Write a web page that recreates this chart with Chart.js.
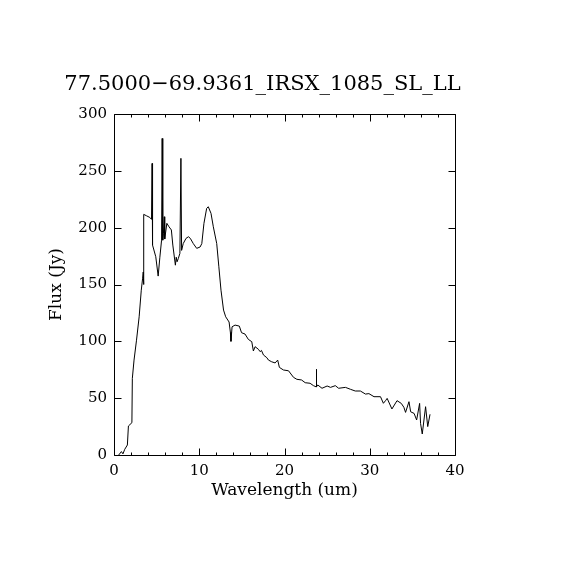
<!DOCTYPE html>
<html>
<head>
<meta charset="utf-8">
<title>77.5000-69.9361_IRSX_1085_SL_LL</title>
<script src="https://cdn.jsdelivr.net/npm/chart.js@4.4.1/dist/chart.umd.min.js"></script>
<style>
  html, body { margin: 0; padding: 0; background: #fff; }
  #wrap { width: 570px; height: 570px; }
</style>
</head>
<body>
<div id="wrap"><canvas id="spectrum-chart"></canvas></div>
<script>
/*
  Spectrum 77.5000-69.9361 (IRSX 1085, SL + LL modules)
  Flux in Jy against wavelength in microns
*/

const wavelength = [
  0.55, 0.87, 1.05, 1.26, 1.57, 1.69, 2.1, 2.15, 2.35, 2.64,
  2.95, 3.2, 3.35, 3.43, 3.47, 3.5, 3.8, 4.2, 4.4, 4.47,
  4.52, 4.9, 5.18, 5.38, 5.58, 5.65, 5.72, 5.8, 5.9, 5.95,
  6.2, 6.45, 6.73, 6.9, 7.2, 7.3, 7.4, 7.55, 7.73, 7.85,
  7.93, 8.12, 8.45, 8.73, 8.95, 9.3, 9.7, 10.1, 10.3, 10.55,
  10.87, 11.06, 11.38, 11.65, 12.05, 12.3, 12.55, 12.85, 13.1, 13.5,
  13.65, 13.72, 13.85, 14.2, 14.7, 14.96, 15.37, 15.76, 16.16, 16.35,
  16.55, 16.94, 17.14, 17.3, 17.53, 17.93, 18.12, 18.5, 18.9, 19.2,
  19.4, 19.87, 20.47, 21.06, 21.45, 22.0, 22.43, 23.0, 23.4, 23.7,
  23.73, 23.78, 23.9, 24.4, 25.0, 25.4, 25.96, 26.35, 27.15, 27.74,
  28.3, 28.9, 29.5, 29.9, 30.5, 31.26, 31.6, 31.85, 32.04, 32.6,
  33.2, 33.7, 34.0, 34.2, 34.6, 34.8, 35.2, 35.5, 35.85, 35.96,
  36.16, 36.55, 36.8, 37.07
];

const flux = [
  0, 3, 1, 5, 8.8, 25.5, 28.4, 67.4, 83.5, 101,
  121.6, 145, 155, 161, 150, 211.7, 210.5, 209, 207.3, 256.5,
  184.7, 174.4, 157.4, 174, 189, 278.5, 189, 195, 209.6, 190,
  203.8, 200.8, 198, 184.7, 167, 174, 170, 173, 177.4, 261,
  180, 186, 190.6, 192, 190.6, 186, 181.8, 183, 186, 203.8,
  217, 218.4, 212.6, 200.8, 186, 165.6, 145, 127.5, 121.6, 117,
  108, 100, 112.8, 114.3, 113.4, 107.6, 106.4, 101.7, 99.7, 91.5,
  95.3, 93, 90.9, 92, 88, 85.6, 83.5, 82, 81, 83.5,
  77.1, 74.8, 74.1, 68.3, 66.6, 66, 63.6, 63.1, 61, 60,
  75.4, 60, 61.6, 58.7, 60.7, 59.5, 61, 58.7, 59.5, 57.8,
  56.3, 56.3, 53.6, 54, 51.3, 51.3, 45.5, 47.8, 49.8, 40.5,
  47.8, 45.4, 42, 37.5, 46.9, 38, 36.6, 30.8, 45.4, 27.8,
  18.5, 42.5, 25, 35.8
];

const xTicks = [0, 10, 20, 30, 40];
const xMinorTicks = [2, 4, 6, 8, 12, 14, 16, 18, 22, 24, 26, 28, 32, 34, 36, 38];
const yTicks = [0, 50, 100, 150, 200, 250, 300];

const titleText = '77.5000\u221269.9361_IRSX_1085_SL_LL';
const serif = "'DejaVu Serif', 'Liberation Serif', serif";

const spectrumCanvas = document.getElementById('spectrum-chart').getContext('2d');

// frame around the plot with inward ticks on all four sides (IDL style)
const frameTicks = {
  id: 'frameTicks',
  beforeDraw(chart) {
    const { ctx } = chart;
    ctx.save();
    ctx.fillStyle = '#fff';
    ctx.fillRect(0, 0, chart.width, chart.height);
    ctx.restore();
  },
  afterDraw(chart) {
    const { ctx, chartArea: a, scales } = chart;
    const L = Math.round(a.left) + 0.5;
    const R = Math.round(a.right) + 0.5;
    const T = Math.round(a.top) + 0.5;
    const B = Math.round(a.bottom) + 0.5;
    ctx.save();
    ctx.strokeStyle = '#000';
    ctx.lineWidth = 1;
    ctx.beginPath();
    ctx.rect(L, T, R - L, B - T);

    const xTick = (v, len) => {
      const px = Math.round(scales.x.getPixelForValue(v)) + 0.5;
      ctx.moveTo(px, B);
      ctx.lineTo(px, B - len);
      ctx.moveTo(px, T);
      ctx.lineTo(px, T + len);
    };
    xTicks.forEach((v) => xTick(v, 7));
    xMinorTicks.forEach((v) => xTick(v, 3));

    yTicks.forEach((v) => {
      const py = Math.round(scales.y.getPixelForValue(v)) + 0.5;
      ctx.moveTo(L, py);
      ctx.lineTo(L + 7, py);
      ctx.moveTo(R, py);
      ctx.lineTo(R - 7, py);
    });
    ctx.stroke();
    ctx.restore();
  },
};

const configSpectrum = {
  type: 'line',
  data: {
    datasets: [
      {
        label: 'Flux',
        data: wavelength.map((w, i) => ({ x: w, y: flux[i] })),
        borderColor: '#000',
        borderWidth: 1,
        pointRadius: 0,
        tension: 0,
        fill: false,
      },
    ],
  },
  options: {
    responsive: false,
    animation: false,
    devicePixelRatio: 1,
    layout: {
      // right padding is split with an empty right axis so the title
      // sits where it does in the original plot
      padding: { top: 60, right: 45, bottom: 55, left: 0 },
    },
    plugins: {
      legend: { display: false },
      tooltip: { enabled: false },
      title: {
        display: true,
        text: titleText,
        color: '#000',
        font: { family: serif, size: 21, weight: 'normal', lineHeight: 1.2 },
        padding: { top: 12, bottom: 16.8 },
      },
    },
    scales: {
      x: {
        type: 'linear',
        min: 0,
        max: 40,
        afterFit: (s) => { s.height = 60; },
        afterBuildTicks: (s) => { s.ticks = xTicks.map((v) => ({ value: v })); },
        grid: { display: false, drawTicks: false },
        border: { display: false },
        ticks: {
          color: '#000',
          padding: 7,
          maxRotation: 0,
          font: { family: serif, size: 15 },
        },
        title: {
          display: true,
          text: 'Wavelength (um)',
          color: '#000',
          font: { family: serif, size: 17, lineHeight: 1.2 },
          padding: { top: 0, bottom: 14 },
        },
      },
      y: {
        type: 'linear',
        min: 0,
        max: 300,
        afterFit: (s) => { s.width = 114; },
        afterBuildTicks: (s) => { s.ticks = yTicks.map((v) => ({ value: v })); },
        grid: { display: false, drawTicks: false },
        border: { display: false },
        ticks: {
          color: '#000',
          padding: 7,
          font: { family: serif, size: 15 },
        },
        title: {
          display: true,
          text: 'Flux (Jy)',
          color: '#000',
          font: { family: serif, size: 17, lineHeight: 1.2 },
          padding: { top: 46, bottom: 0 },
        },
      },
      yRight: {
        type: 'linear',
        position: 'right',
        min: 0,
        max: 300,
        afterFit: (s) => { s.width = 70; },
        grid: { display: false, drawTicks: false },
        border: { display: false },
        ticks: { display: false },
      },
    },
  },
  plugins: [frameTicks],
};

const cv = document.getElementById('spectrum-chart');
cv.width = 570;
cv.height = 570;
new Chart(spectrumCanvas, configSpectrum);
</script>
</body>
</html>
